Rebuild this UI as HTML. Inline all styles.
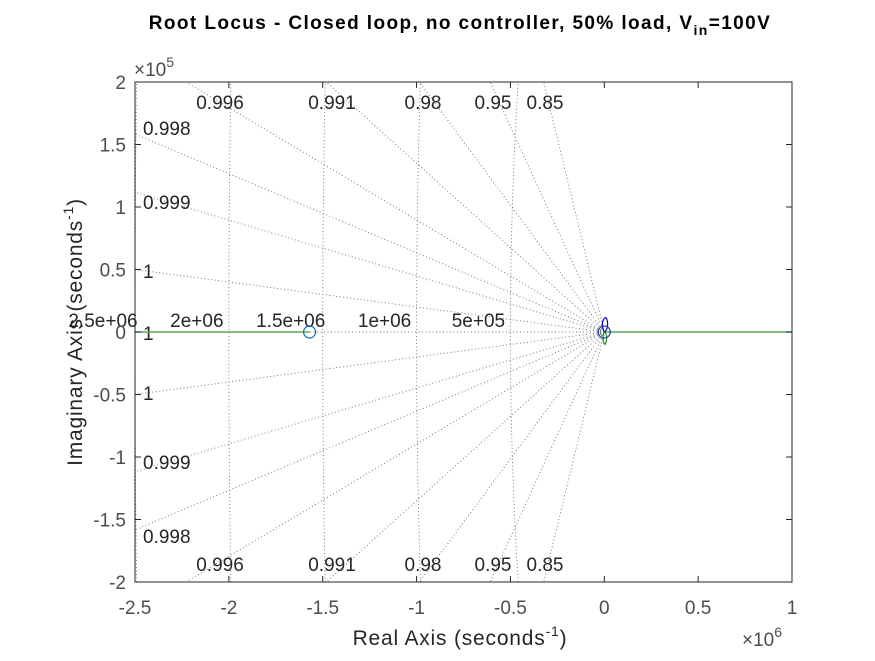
<!DOCTYPE html>
<html><head><meta charset="utf-8"><style>
body{margin:0;background:#fff;}
svg text{font-family:"Liberation Sans",sans-serif;}
</style></head><body>
<svg id="chart" width="875" height="656" viewBox="0 0 875 656" xmlns="http://www.w3.org/2000/svg">
<rect width="875" height="656" fill="#fff"/>
<text x="460" y="29" text-anchor="middle" font-size="19" font-weight="bold" fill="#000" letter-spacing="1.4">Root Locus - Closed loop, no controller, 50% load, V<tspan font-size="14" dy="6">in</tspan><tspan dy="-6">=100V</tspan></text>
<g id="grid"></g>
<g id="series"></g>
<g id="axes"></g>
<text x="460" y="645" text-anchor="middle" font-size="21" letter-spacing="0.8" fill="#262626">Real Axis (seconds<tspan font-size="14" dy="-9">-1</tspan><tspan dy="9">)</tspan></text>
<text transform="translate(82,332) rotate(-90)" text-anchor="middle" font-size="21" letter-spacing="0.8" fill="#262626">Imaginary Axis (seconds<tspan font-size="14" dy="-9">-1</tspan><tspan dy="9">)</tspan></text>
<text x="134" y="76" font-size="19" fill="#4d4d4d">×10<tspan font-size="14" dy="-9">5</tspan></text>
<text x="742" y="646" font-size="19" fill="#4d4d4d">×10<tspan font-size="14" dy="-9">6</tspan></text>
</svg>
<script>
const xTicks=[-2.5e6,-2e6,-1.5e6,-1e6,-5e5,0,5e5,1e6];
const xTickLabels=["-2.5","-2","-1.5","-1","-0.5","0","0.5","1"];
const yTicks=[2e5,1.5e5,1e5,5e4,0,-5e4,-1e5,-1.5e5,-2e5];
const yTickLabels=["2","1.5","1","0.5","0","-0.5","-1","-1.5","-2"];
const dampTop=[0.85,0.95,0.98,0.991,0.996];
const dampTopLabels=["0.85","0.95","0.98","0.991","0.996"];
const dampLeft=[0.998,0.999,0.9998];
const dampLeftLabels=["0.998","0.999","1"];
const wnValues=[5e5,1e6,1.5e6,2e6,2.5e6];
const wnLabels=["5e+05","1e+06","1.5e+06","2e+06","2.5e+06"];
const zerosRe=[-1.57e6,0];
const zerosIm=[0,0];
const ns="http://www.w3.org/2000/svg";
const X0=135,X1=792,Y0=82,Y1=582;
const xmin=-2.5e6,xmax=1e6,ymin=-2e5,ymax=2e5;
const topLabelX=[545,493,423,332,220];
const leftLabelY=[128,202,271];
function sx(v){return X0+(v-xmin)/(xmax-xmin)*(X1-X0);}
function sy(v){return Y1-(v-ymin)/(ymax-ymin)*(Y1-Y0);}
function mk(tag,attrs,parent){const e=document.createElementNS(ns,tag);for(const k in attrs)e.setAttribute(k,attrs[k]);parent.appendChild(e);return e;}
const grid=document.getElementById('grid'),series=document.getElementById('series'),axes=document.getElementById('axes');
const dot={stroke:"#6e6e6e","stroke-width":"0.9","stroke-dasharray":"1,2.5",fill:"none"};
function dampLine(z){
  const t=Math.tan(Math.acos(z));
  let xe=xmin, ye=-xmin*t;
  if(ye>ymax){ye=ymax;xe=-ymax/t;}
  for(const s of [1,-1]){
    const l=mk('line',Object.assign({x1:sx(0),y1:sy(0),x2:sx(xe),y2:sy(s*ye)},dot),grid);
    
    
  }
  return [xe,ye];
}
dampTop.forEach((z,i)=>{
  dampLine(z);
  for(const yy of [109,571]){
    const t=mk('text',{x:topLabelX[i],y:yy,"font-size":"19","text-anchor":"middle",fill:"#262626"},grid);
    t.textContent=dampTopLabels[i];
    
    
  }
});
dampLeft.forEach((z,i)=>{
  dampLine(z);
  for(const s of [1,-1]){
    const cy=s>0?leftLabelY[i]:(2*sy(0)-leftLabelY[i]);
    const t=mk('text',{x:143,y:cy+7,"font-size":"19",fill:"#262626"},grid);
    t.textContent=dampLeftLabels[i];
    
    
  }
});
{const l=mk('line',Object.assign({x1:X0,y1:sy(0),x2:sx(0),y2:sy(0)},dot),grid);


const t=mk('text',{x:143,y:sy(0)+8,"font-size":"19",fill:"#262626"},grid);t.textContent="1";

}
wnValues.forEach((w,i)=>{
  let d="";
  for(let k=0;k<=40;k++){const y=ymin+(ymax-ymin)*k/40;const x=-Math.sqrt(Math.max(w*w-y*y,0));d+=(k?"L":"M")+sx(x).toFixed(1)+","+sy(y).toFixed(1);}
  const p=mk('path',Object.assign({d:d},dot),grid);
  
  
  const t=mk('text',{x:sx(-w)-32,y:327,"font-size":"19","text-anchor":"middle",fill:"#262626"},grid);
  t.textContent=wnLabels[i];
  
  
});
const g1=mk('line',{x1:X0,y1:sy(0),x2:sx(zerosRe[0]),y2:sy(0),stroke:"#5fa35f","stroke-width":"1.5"},series);


const g2=mk('line',{x1:sx(0),y1:sy(0),x2:X1,y2:sy(0),stroke:"#5fa35f","stroke-width":"1.5"},series);


const lb=mk('path',{d:`M${sx(0)},${sy(0)} C${sx(0)-5},${sy(0)-10} ${sx(0)+1},${sy(0)-16} ${sx(0)+2},${sy(0)-14} C${sx(0)+4},${sy(0)-10} ${sx(0)+4},${sy(0)-2} ${sx(0)},${sy(0)}`,stroke:"#0000cc",fill:"none","stroke-width":"1.2"},series);


const lg=mk('path',{d:`M${sx(0)},${sy(0)} C${sx(0)-3},${sy(0)+6} ${sx(0)},${sy(0)+14} ${sx(0)+1},${sy(0)+12} C${sx(0)+3},${sy(0)+8} ${sx(0)+3},${sy(0)+2} ${sx(0)},${sy(0)}`,stroke:"#228b22",fill:"none","stroke-width":"1.2"},series);


zerosRe.forEach((r,i)=>{
  const c=mk('circle',{cx:sx(r),cy:sy(zerosIm[i]),r:6,fill:"none",stroke:i?"#1f3c99":"#0072bd","stroke-width":"1.2"},series);
  
  
});
const box=mk('rect',{x:X0,y:Y0,width:X1-X0,height:Y1-Y0,fill:"none",stroke:"#262626","stroke-width":"1"},axes);


xTicks.forEach((v,i)=>{
  const x=sx(v);
  mk('line',{x1:x,y1:Y1,x2:x,y2:Y1-6,stroke:"#262626"},axes);
  mk('line',{x1:x,y1:Y0,x2:x,y2:Y0+6,stroke:"#262626"},axes);
  const t=mk('text',{x:x,y:Y1+32,"font-size":"19","text-anchor":"middle",fill:"#4d4d4d"},axes);
  t.textContent=xTickLabels[i];
  
  
});
yTicks.forEach((v,i)=>{
  const y=sy(v);
  mk('line',{x1:X0,y1:y,x2:X0+6,y2:y,stroke:"#262626"},axes);
  mk('line',{x1:X1,y1:y,x2:X1-6,y2:y,stroke:"#262626"},axes);
  const t=mk('text',{x:X0-9,y:y+7,"font-size":"19","text-anchor":"end",fill:"#4d4d4d"},axes);
  t.textContent=yTickLabels[i];
  
  
});
</script>
</body></html>
